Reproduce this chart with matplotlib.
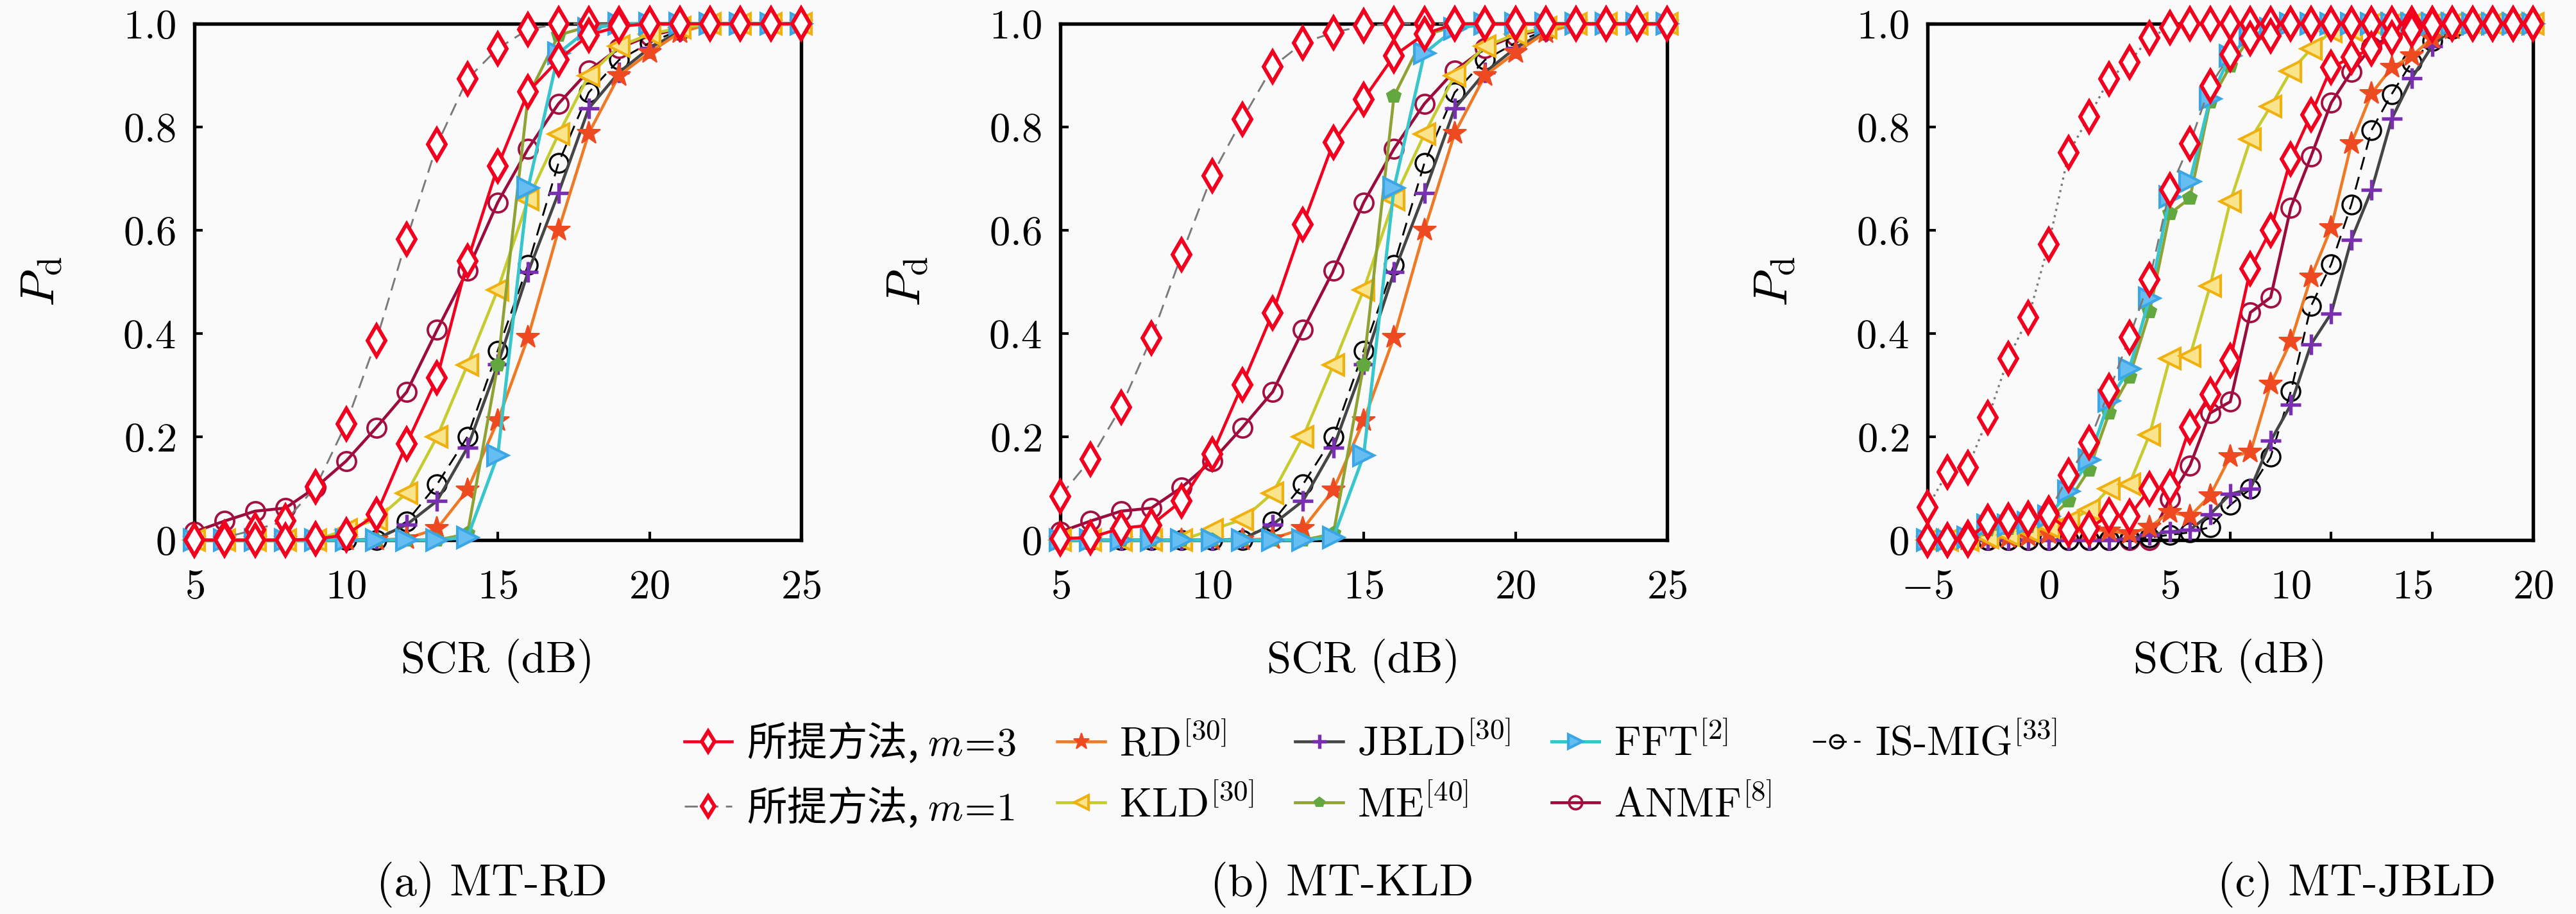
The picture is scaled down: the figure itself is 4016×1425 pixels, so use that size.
import matplotlib
matplotlib.use("Agg")
import matplotlib.pyplot as plt

plt.rcParams['font.family'] = ['cmr10', 'Noto Sans CJK SC', 'DejaVu Sans']
plt.rcParams['mathtext.fontset'] = 'cm'
plt.rcParams['axes.formatter.use_mathtext'] = True
plt.rcParams['axes.unicode_minus'] = False

# ---------------- data ----------------
x_ab = [5, 6, 7, 8, 9, 10, 11, 12, 13, 14, 15, 16, 17, 18, 19, 20, 21, 22, 23, 24, 25]
x_c = [-5, -4, -3, -2, -1, 0, 1, 2, 3, 4, 5, 6, 7, 8, 9, 10, 11, 12, 13, 14, 15,
       16, 17, 18, 19, 20, 21, 22, 23, 24, 25]

# (a) MT-RD proposed
a_m3 = [0, 0, 0, 0, 0.002, 0.01, 0.05, 0.187, 0.314, 0.54, 0.724, 0.868, 0.93, 0.978, 0.995, 1, 1, 1, 1, 1, 1]
a_m1 = [0, 0.005, 0.02, 0.037, 0.103, 0.225, 0.387, 0.583, 0.766, 0.893, 0.952, 0.989, 1, 1, 1, 1, 1, 1, 1, 1, 1]
# (b) MT-KLD proposed
b_m3 = [0.003, 0.005, 0.023, 0.029, 0.076, 0.166, 0.301, 0.44, 0.611, 0.77, 0.854, 0.938, 0.98, 1, 1, 1, 1, 1, 1, 1, 1]
b_m1 = [0.085, 0.157, 0.257, 0.391, 0.553, 0.706, 0.815, 0.917, 0.963, 0.983, 0.996, 1, 1, 1, 1, 1, 1, 1, 1, 1, 1]
# comparison methods in (a) and (b)
rd_ab = [0, 0, 0, 0, 0, 0, 0, 0.003, 0.022, 0.097, 0.231, 0.393, 0.6, 0.788, 0.9, 0.944, 0.983, 1, 1, 1, 1]
kld_ab = [0, 0, 0, 0, 0, 0.02, 0.04, 0.091, 0.2, 0.339, 0.485, 0.66, 0.786, 0.9, 0.956, 0.98, 0.992, 1, 1, 1, 1]
jbld_ab = [0, 0, 0, 0, 0, 0, 0.002, 0.03, 0.076, 0.179, 0.34, 0.519, 0.672, 0.836, 0.906, 0.953, 0.985, 1, 1, 1, 1]
me_ab = [0, 0, 0, 0, 0, 0, 0, 0, 0, 0.012, 0.339, 0.86, 0.978, 0.995, 1, 1, 1, 1, 1, 1, 1]
fft_ab = [0, 0, 0, 0, 0, 0, 0, 0, 0, 0.005, 0.164, 0.682, 0.943, 0.99, 1, 1, 1, 1, 1, 1, 1]
anmf_ab = [0.016, 0.037, 0.056, 0.062, 0.102, 0.153, 0.218, 0.287, 0.407, 0.522, 0.654, 0.758, 0.845, 0.909,
           0.953, 0.977, 0.99, 1, 1, 1, 1]
ismig_ab = [0, 0, 0, 0, 0, 0, 0, 0.036, 0.108, 0.2, 0.367, 0.533, 0.73, 0.867, 0.93, 0.963, 0.988, 1, 1, 1, 1]

# (c) MT-JBLD
c_m3 = [0, 0, 0, 0.035, 0.037, 0.04, 0.048, 0.02, 0.023, 0.048, 0.046, 0.099, 0.103, 0.219, 0.282, 0.348,
        0.525, 0.6, 0.738, 0.824, 0.915, 0.935, 0.951, 0.973, 0.988, 0.998, 1, 1, 1, 1, 1]
c_m1 = [0, 0, 0.005, 0.036, 0.038, 0.042, 0.052, 0.126, 0.189, 0.289, 0.392, 0.504, 0.678, 0.768, 0.88, 0.94,
        0.972, 0.976, 1, 1, 1, 1, 1, 1, 1, 1, 1, 1, 1, 1, 1]
c_dotted = [0.063, 0.132, 0.141, 0.237, 0.352, 0.431, 0.573, 0.75, 0.82, 0.893, 0.926, 0.973, 0.993, 1, 1, 1,
            1, 1, 1, 1, 1, 1, 1, 1, 1, 1, 1, 1, 1, 1, 1]
c_rd = [0, 0, 0, 0.003, 0.005, 0.008, 0.012, 0.02, 0.02, 0.018, 0.012, 0.025, 0.054, 0.046, 0.086, 0.162, 0.17,
        0.302, 0.385, 0.509, 0.605, 0.768, 0.865, 0.915, 0.938, 0.972, 0.99, 1, 1, 1, 1]
c_kld = [0, 0, 0, 0.005, 0.01, 0.017, 0.025, 0.036, 0.058, 0.1, 0.108, 0.204, 0.352, 0.356, 0.492, 0.656, 0.776,
         0.84, 0.908, 0.951, 0.985, 0.988, 1, 1, 1, 1, 1, 1, 1, 1, 1]
c_jbld = [0, 0, 0, 0, 0, 0, 0, 0, 0, 0, 0.003, 0.01, 0.016, 0.02, 0.05, 0.089, 0.099, 0.192, 0.262, 0.379, 0.439,
          0.582, 0.678, 0.816, 0.895, 0.957, 0.99, 1, 1, 1, 1]
c_me = [0, 0, 0, 0.02, 0.022, 0.026, 0.04, 0.076, 0.136, 0.246, 0.316, 0.442, 0.632, 0.662, 0.848, 0.918, 0.975,
        0.99, 1, 1, 1, 1, 1, 1, 1, 1, 1, 1, 1, 1, 1]
c_fft = [0, 0, 0.005, 0.028, 0.029, 0.033, 0.046, 0.094, 0.155, 0.27, 0.332, 0.468, 0.665, 0.695, 0.855, 0.938,
         0.978, 0.99, 1, 1, 1, 1, 1, 1, 1, 1, 1, 1, 1, 1, 1]
c_anmf = [0, 0, 0, 0, 0, 0, 0, 0, 0, 0, 0, 0, 0.08, 0.144, 0.246, 0.268, 0.441, 0.47, 0.644, 0.743, 0.847, 0.907,
          0.955, 0.978, 0.99, 1, 1, 1, 1, 1, 1]
c_ismig = [0, 0, 0, 0, 0, 0, 0, 0, 0, 0, 0.003, 0.005, 0.01, 0.015, 0.025, 0.068, 0.099, 0.161, 0.288, 0.453,
           0.534, 0.65, 0.794, 0.864, 0.926, 0.967, 0.99, 1, 1, 1, 1]

labels = ['所提方法,$\\;m\\!=\\!3$', '所提方法,$\\;m\\!=\\!1$', 'RD$^{[30]}$', 'KLD$^{[30]}$', 'JBLD$^{[30]}$',
          'ME$^{[40]}$', 'FFT$^{[2]}$', 'ANMF$^{[8]}$', 'IS-MIG$^{[33]}$']
y_ticks = [0, 0.2, 0.4, 0.6, 0.8, 1.0]
y_ticklabels = ['$0$', '$0.2$', '$0.4$', '$0.6$', '$0.8$', '$1.0$']
x_ticks_ab = [5, 10, 15, 20, 25]
x_ticklabels_ab = ['$5$', '$10$', '$15$', '$20$', '$25$']
c_label_pos = [-5, 1, 7, 13, 19, 25]
c_ticklabels = ['$-5$', '$0$', '$5$', '$10$', '$15$', '$20$']
c_tick_marks = [0, 5, 10, 15, 20]
captions = ['(a) MT-RD', '(b) MT-KLD', '(c) MT-JBLD']

# ---------------- styles ----------------
RED = '#f2001e'
sty = {
    'm3': dict(color=RED, lw=1.1, ls='-', marker='d', ms=8, mfc='white', mec=RED, mew=1.4),
    'm1': dict(color='#7a7a7a', lw=0.7, ls=(0, (7, 4)), marker='d', ms=8, mfc='white', mec=RED, mew=1.4),
    'dot': dict(color='#7a7a7a', lw=0.8, ls=(0, (1, 2)), marker='d', ms=8, mfc='white', mec=RED, mew=1.4),
    'rd': dict(color='#ef7a26', lw=1.1, ls='-', marker='*', ms=9, mfc='#ee4a22', mec='#ee4a22', mew=0.5),
    'kld': dict(color='#c6cc30', lw=1.1, ls='-', marker='<', ms=7.5, mfc='#fbe58c', mec='#f0b010', mew=1.0),
    'jbld': dict(color='#454545', lw=1.1, ls='-', marker='+', ms=7.5, mfc='#7a2fb0', mec='#7a2fb0', mew=1.3),
    'me': dict(color='#8ea334', lw=1.1, ls='-', marker='p', ms=5.5, mfc='#62a83e', mec='#62a83e', mew=0.5),
    'fft': dict(color='#38c6cc', lw=1.2, ls='-', marker='>', ms=7.5, mfc='#66bdf2', mec='#3aa6e6', mew=1.0),
    'anmf': dict(color='#9b0b3c', lw=1.1, ls='-', marker='o', ms=7, mfc='none', mec='#a3103f', mew=0.9),
    'ismig': dict(color='black', lw=0.7, ls=(0, (7, 4)), marker='o', ms=7, mfc='none', mec='black', mew=0.8),
}

fig = plt.figure(figsize=(4016 / 300, 1425 / 300), dpi=300)
fig.patch.set_facecolor('#fafafa')

ax_rects = [[303 / 4016, 0.4091, 946 / 4016, 0.5649],
            [1653 / 4016, 0.4091, 946 / 4016, 0.5649],
            [3005 / 4016, 0.4091, 944 / 4016, 0.5649]]
caption_x = [0.191, 0.521, 0.915]

panels = [
    (x_ab, [('m3', a_m3), ('m1', a_m1), ('rd', rd_ab), ('kld', kld_ab), ('jbld', jbld_ab),
            ('me', me_ab), ('fft', fft_ab), ('anmf', anmf_ab), ('ismig', ismig_ab)]),
    (x_ab, [('m3', b_m3), ('m1', b_m1), ('rd', rd_ab), ('kld', kld_ab), ('jbld', jbld_ab),
            ('me', me_ab), ('fft', fft_ab), ('anmf', anmf_ab), ('ismig', ismig_ab)]),
    (x_c, [('m3', c_m3), ('m1', c_m1), ('rd', c_rd), ('kld', c_kld), ('jbld', c_jbld),
           ('me', c_me), ('fft', c_fft), ('anmf', c_anmf), ('ismig', c_ismig), ('dot', c_dotted)]),
]

draw_order = ['anmf', 'ismig', 'jbld', 'rd', 'kld', 'me', 'fft', 'dot', 'm1', 'm3']
legend_keys = ['m3', 'm1', 'rd', 'kld', 'jbld', 'me', 'fft', 'anmf', 'ismig']

handles = {}
for i, (rect, (xs, series)) in enumerate(zip(ax_rects, panels)):
    ax = fig.add_axes(rect)
    ax.set_facecolor('#fafafa')
    d = dict(series)
    for z, key in enumerate(draw_order):
        if key in d:
            ln, = ax.plot(xs, d[key], zorder=2 + z, clip_on=False, **sty[key])
            if i == 0:
                handles[key] = ln
    ax.set_ylim(0, 1)
    ax.set_yticks(y_ticks)
    ax.set_yticklabels(y_ticklabels)
    if i < 2:
        ax.set_xlim(5, 25)
        ax.set_xticks(x_ticks_ab)
        ax.set_xticklabels(x_ticklabels_ab)
        ax.tick_params(axis='x', which='major', direction='in', length=3.2, width=1.0, pad=11, labelsize=15.5)
    else:
        ax.set_xlim(-5, 25)
        ax.set_xticks(c_label_pos)
        ax.set_xticklabels(c_ticklabels)
        ax.set_xticks(c_tick_marks, minor=True)
        ax.tick_params(axis='x', which='major', length=0, pad=11, labelsize=15.5)
        ax.tick_params(axis='x', which='minor', direction='in', length=3.2, width=1.0)
    ax.tick_params(axis='y', direction='in', length=3.2, width=1.0, pad=7, labelsize=15.5)
    ax.tick_params(top=False, right=False)
    for sp in ax.spines.values():
        sp.set_linewidth(1.3)
    ax.set_xlabel('SCR (dB)', fontsize=16.5, labelpad=12)
    ax.set_ylabel('$P_{\\mathrm{d}}$', fontsize=18)
    ax.yaxis.set_label_coords(-0.215, 0.5)
    fig.text(caption_x[i], 0.032, captions[i], ha='center', va='center', fontsize=17)

leg = fig.legend([handles[k] for k in legend_keys], labels, ncol=5, loc='center',
                 bbox_to_anchor=(0.532, 0.152), frameon=False, fontsize=15.5,
                 handlelength=1.15, handletextpad=0.35, columnspacing=1.0, labelspacing=0.5,
                 markerscale=0.7)
for t in leg.get_texts()[:2]:
    t.set_fontfamily('Noto Sans CJK SC')
    t.set_fontsize(15)

fig.savefig('out.png', dpi=300, facecolor=fig.get_facecolor())
